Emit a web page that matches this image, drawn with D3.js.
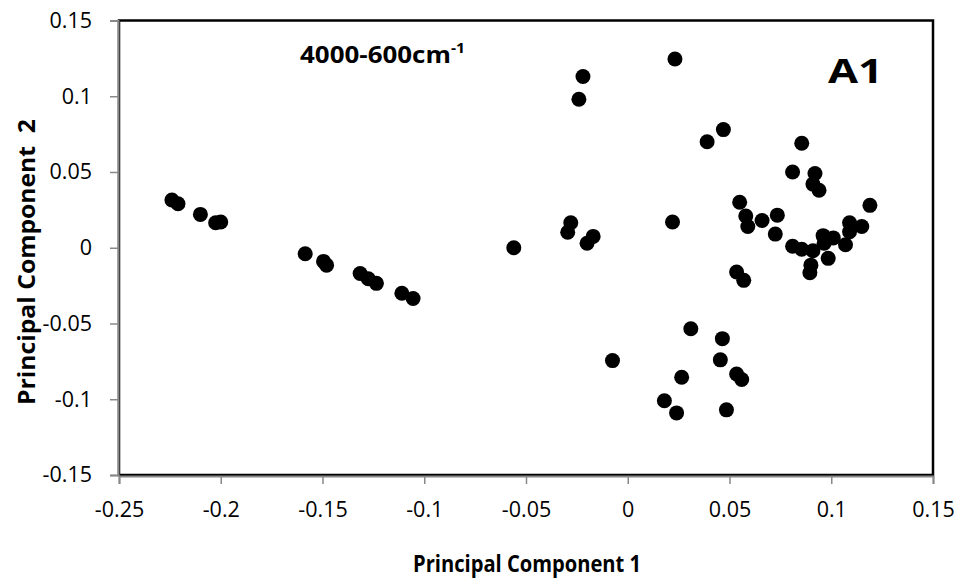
<!DOCTYPE html>
<html>
<head>
<meta charset="utf-8">
<script src="https://cdn.jsdelivr.net/npm/d3@7"></script>
<style>
  body { margin: 0; background: #fff; }
  svg text { font-family: "Open Sans", "Noto Sans", sans-serif; fill: #000; }
</style>
</head>
<body>
<div id="chart"></div>
<script>
// scores
const pc1 = [
  -0.224, -0.221, -0.210, -0.2025, -0.200,
  -0.1585, -0.1495, -0.148, -0.1315, -0.1275, -0.1235, -0.111, -0.1055,
  -0.056, -0.028, -0.0295, -0.017, -0.020, -0.022, -0.024,
  0.0232, 0.047, 0.039, 0.022, 0.055, 0.058, 0.059, 0.066, 0.0735, 0.0725,
  0.0855, 0.081, 0.092, 0.091, 0.094, 0.119, 0.109, 0.115, 0.109, 0.096,
  0.101, 0.107, 0.081, 0.0855, 0.091, 0.0965, 0.0985, 0.090, 0.0895,
  0.0535, 0.057, 0.031, 0.0465, -0.0075, 0.0455, 0.0535, 0.056, 0.0265,
  0.018, 0.024, 0.0485
];
const pc2 = [
  0.0315, 0.029, 0.022, 0.0165, 0.017,
  -0.004, -0.009, -0.0115, -0.017, -0.0205, -0.0235, -0.030, -0.0335,
  0.000, 0.0165, 0.0102, 0.0075, 0.003, 0.113, 0.098,
  0.1246, 0.078, 0.070, 0.017, 0.030, 0.021, 0.014, 0.018, 0.0215, 0.009,
  0.069, 0.050, 0.049, 0.042, 0.038, 0.028, 0.0165, 0.014, 0.0106, 0.008,
  0.0065, 0.002, 0.001, -0.001, -0.002, 0.003, -0.007, -0.0115, -0.0165,
  -0.016, -0.0215, -0.0535, -0.060, -0.0745, -0.074, -0.0833, -0.087, -0.0855,
  -0.101, -0.109, -0.107
];
const xTicks = [-0.25, -0.2, -0.15, -0.1, -0.05, 0, 0.05, 0.1, 0.15];
const yTicks = [-0.15, -0.1, -0.05, 0, 0.05, 0.1, 0.15];

const width = 961, height = 584;
const margin = { top: 20.5, left: 119, right: 28, bottom: 109 };

const x = d3.scaleLinear().domain([-0.25, 0.15]).range([margin.left, width - margin.right]);
const y = d3.scaleLinear().domain([-0.15, 0.15]).range([height - margin.bottom, margin.top]);

const svg = d3.select("#chart").append("svg")
  .attr("width", width)
  .attr("height", height);

// plot frame
svg.append("rect")
  .attr("x", x(-0.25)).attr("y", y(0.15))
  .attr("width", x(0.15) - x(-0.25))
  .attr("height", y(-0.15) - y(0.15))
  .attr("fill", "none")
  .attr("stroke", "#000")
  .attr("stroke-width", 2.5);

const fmt = d => d3.format("")(d).replace("−", "-");

const xAxisY = y(-0.15) + 1;
const xAxis = svg.append("g")
  .attr("transform", `translate(0, ${xAxisY})`)
  .call(d3.axisBottom(x).tickValues(xTicks).tickSize(8).tickFormat(fmt));
const yAxis = svg.append("g")
  .attr("transform", `translate(${x(-0.25) - 1}, 0)`)
  .call(d3.axisLeft(y).tickValues(yTicks).tickSize(8).tickPadding(18).tickFormat(fmt));

for (const ax of [xAxis, yAxis]) {
  ax.attr("font-size", null).attr("font-family", null);
  ax.select(".domain").attr("stroke", "#888").attr("stroke-width", 2);
  ax.selectAll(".tick line").attr("stroke", "#888").attr("stroke-width", 1.5);
  ax.selectAll(".tick text").style("font-size", "21.5px").attr("fill", "#000");
}
// baseline of x labels
xAxis.selectAll(".tick text").attr("y", 517 - xAxisY).attr("dy", 0);

// points
svg.append("g")
  .selectAll("circle")
  .data(pc1.map((v, i) => [v, pc2[i]]))
  .join("circle")
  .attr("cx", d => x(d[0]))
  .attr("cy", d => y(d[1]))
  .attr("r", 7.5)
  .attr("fill", "#000");

// titles
svg.append("text")
  .attr("x", 527)
  .attr("y", 572)
  .attr("text-anchor", "middle")
  .attr("textLength", 228)
  .attr("lengthAdjust", "spacingAndGlyphs")
  .style("font-size", "24px")
  .style("font-weight", "bold")
  .text("Principal Component 1");

svg.append("text")
  .attr("transform", `translate(35, 262) rotate(-90)`)
  .attr("text-anchor", "middle")
  .attr("textLength", 286)
  .attr("lengthAdjust", "spacingAndGlyphs")
  .style("font-size", "23px")
  .style("font-weight", "bold")
  .text("Principal Component\u00a0 2");

const range = svg.append("text")
  .attr("x", 300)
  .attr("y", 63)
  .attr("textLength", 165)
  .attr("lengthAdjust", "spacingAndGlyphs")
  .style("font-size", "23px")
  .style("font-weight", "bold");
range.append("tspan").text("4000-600cm");
range.append("tspan").attr("dy", -10).style("font-size", "14px").text("-1");

svg.append("text")
  .attr("x", 828)
  .attr("y", 83)
  .attr("textLength", 55)
  .attr("lengthAdjust", "spacingAndGlyphs")
  .style("font-size", "34px")
  .style("font-weight", "bold")
  .text("A1");
</script>
</body>
</html>
